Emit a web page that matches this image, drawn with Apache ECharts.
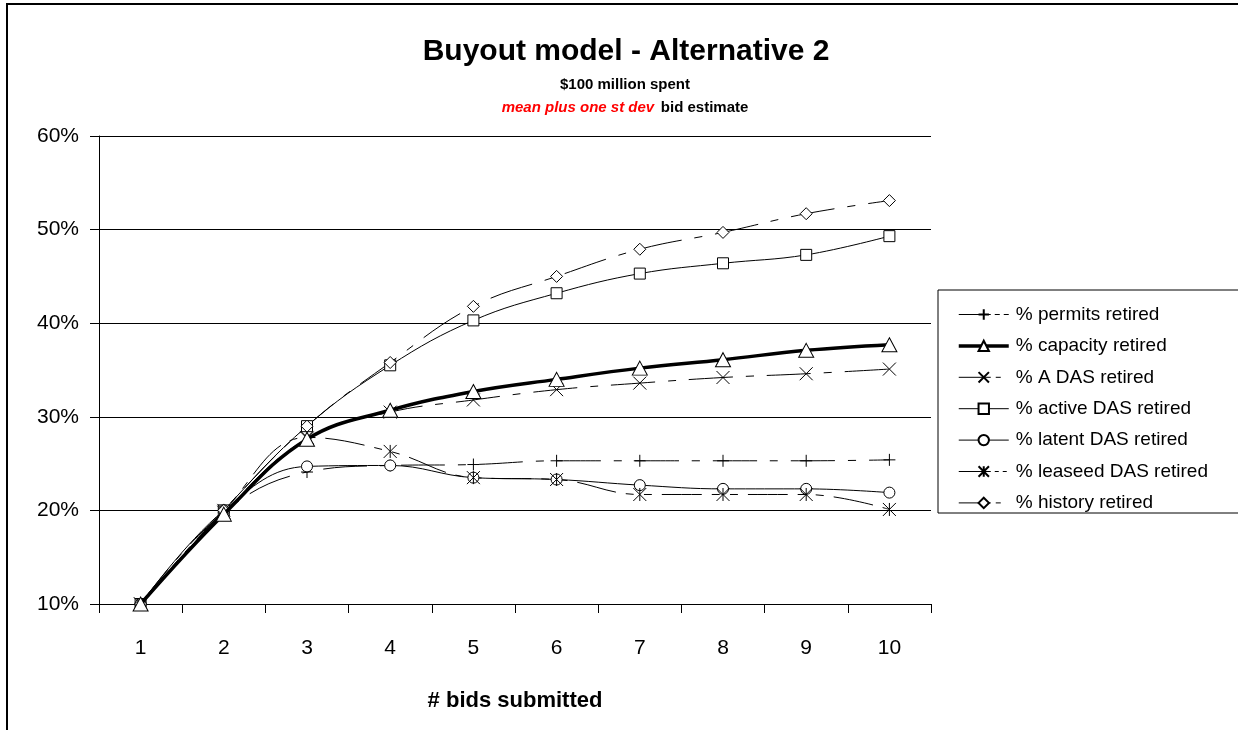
<!DOCTYPE html>
<html>
<head>
<meta charset="utf-8">
<script src="https://cdn.jsdelivr.net/npm/echarts@6/dist/echarts.min.js"></script>
<style>html,body{margin:0;padding:0;background:#fff;}#c{width:1238px;height:730px;}</style>
</head>
<body>
<div id="c"></div>
<script>
const categories = ['1','2','3','4','5','6','7','8','9','10'];
const seriesNames = ['% permits retired','% capacity retired','% A DAS retired','% active DAS retired','% latent DAS retired','% leaseed DAS retired','% history retired'];
const permits  = [10, 19.8, 24.1, 24.8, 24.9, 25.3, 25.3, 25.3, 25.3, 25.4];
const capacity = [10, 19.6, 27.6, 30.7, 32.7, 34.0, 35.2, 36.1, 37.1, 37.7];
const aDas     = [10, 19.8, 27.7, 30.5, 31.8, 32.9, 33.6, 34.2, 34.6, 35.1];
const activeDas= [10, 20.0, 29.0, 35.5, 40.3, 43.2, 45.3, 46.4, 47.3, 49.3];
const latentDas= [10, 20.0, 24.7, 24.8, 23.5, 23.3, 22.7, 22.3, 22.3, 21.9];
const leasedDas= [10, 20.0, 27.8, 26.3, 23.5, 23.3, 21.7, 21.7, 21.7, 20.1];
const history  = [10, 20.0, 29.0, 35.8, 41.8, 45.0, 47.9, 49.7, 51.7, 53.1];
const yTicks = [10, 20, 30, 40, 50, 60];

const FONT = '"Liberation Sans", Arial, sans-serif';
const PLUS = 'path://M0,5 L10,5 M5,0 L5,10';
const CROSS = 'path://M0,0 L10,10 M10,0 L0,10';
const STAR = 'path://M0,0 L10,10 M10,0 L0,10 M5,0 L5,10';
const dashDot = [44, 13, 8, 13];
const dashDotDot = [40, 10, 8, 10, 8, 10];
const legendDash1 = [32, 4, 5, 4, 5, 20];
const legendDash2 = [32, 4, 4, 4, 4, 20];
const legendDash3 = [32, 5, 5, 20];

function mk(name, data, symbol, size, lw, dash) {
  return {
    name: name, type: 'line', data: data, smooth: 0.4,
    symbol: symbol, symbolSize: size,
    lineStyle: {color: '#000', width: lw, type: dash || 'solid'},
    itemStyle: {color: '#fff', borderColor: '#000', borderWidth: 1},
    emphasis: {disabled: true}, animation: false, z: 3
  };
}

const legendDashes = [legendDash1, 'solid', legendDash3, 'solid', 'solid', legendDash2, legendDash3];
const legendWidths = [1, 3.5, 1, 1, 1, 1, 1];

const chart = echarts.init(document.getElementById('c'), null, {renderer: 'canvas'});
chart.setOption({
  animation: false,
  backgroundColor: '#fff',
  grid: {left: 99, right: 307, top: 136, bottom: 126},
  graphic: [
    {type: 'rect', shape: {x: 7, y: 4, width: 1300, height: 800}, style: {fill: 'none', stroke: '#000', lineWidth: 2}, silent: true},
    {type: 'rect', shape: {x: 938, y: 290, width: 400, height: 223}, style: {fill: 'none', stroke: '#000', lineWidth: 1}, silent: true},
    {type: 'text', x: 626, y: 52, style: {text: 'Buyout model - Alternative 2', font: 'bold 30px ' + FONT, fill: '#000', align: 'center', verticalAlign: 'middle'}},
    {type: 'text', x: 625, y: 85, style: {text: '$100 million spent', font: 'bold 15px ' + FONT, fill: '#000', align: 'center', verticalAlign: 'middle'}},
    {type: 'text', x: 625, y: 108, style: {
      text: '{r|mean plus one st dev}  {b|bid estimate}', align: 'center', verticalAlign: 'middle',
      rich: {
        r: {fontFamily: FONT, fontSize: 15, fontWeight: 'bold', fontStyle: 'italic', fill: '#ff0000', color: '#ff0000'},
        b: {fontFamily: FONT, fontSize: 15, fontWeight: 'bold', fill: '#000', color: '#000'}
      }}}
  ],
  legend: {
    orient: 'vertical', left: 952, top: 300,
    itemWidth: 50, itemHeight: 13, itemGap: 12.4,
    data: seriesNames.map(function (n, i) {
      return {name: n, lineStyle: {type: legendDashes[i], width: legendWidths[i]}};
    }),
    textStyle: {fontFamily: FONT, fontSize: 19, color: '#000', padding: [0, 0, 0, 2]},
    selectedMode: false
  },
  xAxis: {
    type: 'category', data: categories, boundaryGap: true,
    name: '# bids submitted', nameLocation: 'middle', nameGap: 86,
    nameTextStyle: {fontFamily: FONT, fontSize: 22, fontWeight: 'bold', color: '#000'},
    axisLine: {lineStyle: {color: '#000', width: 1}},
    axisTick: {show: true, inside: false, length: 9, alignWithLabel: false, lineStyle: {color: '#000'}},
    axisLabel: {fontFamily: FONT, fontSize: 21, color: '#000', margin: 34},
    splitLine: {show: false}
  },
  yAxis: {
    type: 'value', min: 10, max: 60, interval: 10,
    axisLine: {show: true, lineStyle: {color: '#000', width: 1}},
    axisTick: {show: true, length: 9, lineStyle: {color: '#000'}},
    axisLabel: {fontFamily: FONT, fontSize: 21, color: '#000', margin: 20,
      formatter: function (v) { return yTicks.indexOf(v) >= 0 ? v + '%' : ''; }},
    splitLine: {show: true, lineStyle: {color: '#000', width: 1}}
  },
  series: [
    mk(seriesNames[0], permits, PLUS, 12, 1, dashDot),
    Object.assign(mk(seriesNames[1], capacity, 'triangle', [15, 14], 3.5, 'solid'), {z: 4}),
    mk(seriesNames[2], aDas, CROSS, 13, 1, dashDot),
    mk(seriesNames[3], activeDas, 'rect', 11, 1, 'solid'),
    mk(seriesNames[4], latentDas, 'circle', 11, 1, 'solid'),
    mk(seriesNames[5], leasedDas, STAR, 13, 1, dashDotDot),
    mk(seriesNames[6], history, 'diamond', 12, 1, dashDot)
  ]
});
</script>
</body>
</html>
